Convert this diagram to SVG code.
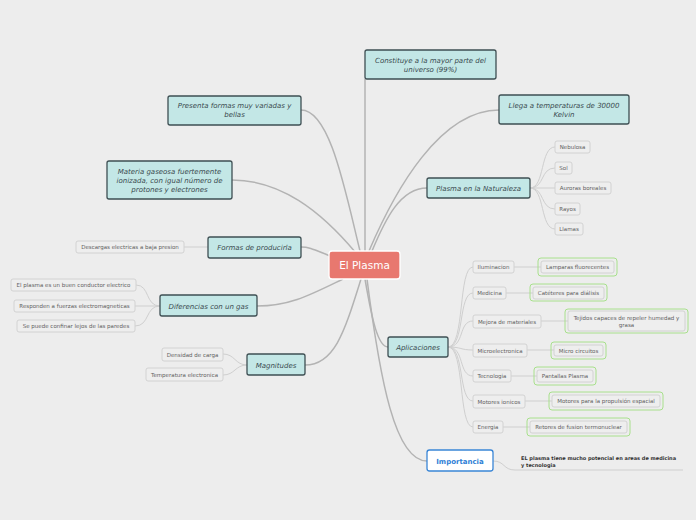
<svg xmlns="http://www.w3.org/2000/svg" width="696" height="520" viewBox="0 0 696 520">
<style>
.bg{fill:#ededed}
.main rect{fill:#c3e7e6;stroke:#3e4f53;stroke-width:1.3}
.main text{font-family:"DejaVu Sans",Verdana,sans-serif;font-size:7px;font-style:italic;fill:#3a4a4e;text-anchor:middle}
.leaf rect.b{fill:#eeeeee;stroke:#d2d2d2;stroke-width:1}
.leaf rect.g{fill:none;stroke:#a8e08c;stroke-width:1}
.leaf text{font-family:"DejaVu Sans",Verdana,sans-serif;font-size:5.5px;fill:#5e5e5e;text-anchor:middle}
.c1{fill:none;stroke:#b3b3b3;stroke-width:1.5}
.c2{fill:none;stroke:#cfcfcf;stroke-width:1}
</style>
<rect class="bg" width="696" height="520"/>
<g id="connectors">
<path class="c1" d="M365,251 L365,79"/>
<path class="c1" d="M360,251 C345,190 330,110 301,110"/>
<path class="c1" d="M369,251 C395,190 440,110 499,110"/>
<path class="c1" d="M356,253 C320,210 280,180 232,180"/>
<path class="c1" d="M372,251 C385,220 400,188 427,188"/>
<path class="c1" d="M330,256 C315,250 310,247 301,247"/>
<path class="c1" d="M343,279 C310,295 290,306 257,306"/>
<path class="c1" d="M361,279 C345,330 335,365 305,365"/>
<path class="c1" d="M365,279 C372,320 378,347 388,347"/>
<path class="c1" d="M367,279 C380,380 395,461 427,461"/>
<path class="c2" d="M530,188 C545,188 540,147 555,147"/>
<path class="c2" d="M530,188 C545,188 540,168 555,168"/>
<path class="c2" d="M530,188 L555,188"/>
<path class="c2" d="M530,188 C545,188 540,209 555,209"/>
<path class="c2" d="M530,188 C545,188 540,229 555,229"/>
<path class="c2" d="M208,247 L184,247"/>
<path class="c2" d="M160,306 C145,306 150,285 136,285"/>
<path class="c2" d="M160,306 L135,306"/>
<path class="c2" d="M160,306 C145,306 150,326 135,326"/>
<path class="c2" d="M247,365 C235,365 235,354 223,354"/>
<path class="c2" d="M247,365 C235,365 235,375 223,375"/>
<path class="c2" d="M448,347 C465,347 458,267 473,267"/>
<path class="c2" d="M448,347 C465,347 458,293 473,293"/>
<path class="c2" d="M448,347 C465,347 458,321 473,321"/>
<path class="c2" d="M448,347 C462,347 460,350 473,350"/>
<path class="c2" d="M448,347 C465,347 458,376 473,376"/>
<path class="c2" d="M448,347 C465,347 458,401 473,401"/>
<path class="c2" d="M448,347 C465,347 458,427 473,427"/>
<path class="c2" d="M514,267 L541,267"/>
<path class="c2" d="M506,293 L533,293"/>
<path class="c2" d="M541,321 L568,321"/>
<path class="c2" d="M527,350 L554,350"/>
<path class="c2" d="M511,376 L537,376"/>
<path class="c2" d="M525,401 L552,401"/>
<path class="c2" d="M503,427 L530,427"/>
<path class="c2" d="M493,461 C505,461 503,470 515,470 L683,470"/>
</g>
<g id="center">
<rect x="329" y="251" width="71" height="28" rx="3" fill="#e8786f" stroke="#ffffff" stroke-width="1.3"/>
<text x="364.5" y="269" font-family="'DejaVu Sans',Verdana,sans-serif" font-size="10.5" fill="#ffffff" text-anchor="middle">El Plasma</text>
</g>
<g id="n-constituye" class="main"><rect x="365" y="50" width="131" height="29" rx="2"/><text x="430.5" y="63">Constituye a la mayor parte del</text><text x="430.5" y="72">universo (99%)</text></g>
<g id="n-presenta" class="main"><rect x="168" y="96" width="133" height="29" rx="2"/><text x="234.5" y="108">Presenta formas muy variadas y</text><text x="234.5" y="117">bellas</text></g>
<g id="n-llega" class="main"><rect x="499" y="95" width="130" height="29" rx="2"/><text x="564" y="108">Llega a temperaturas de 30000</text><text x="564" y="117">Kelvin</text></g>
<g id="n-materia" class="main"><rect x="107" y="161" width="125" height="38" rx="2"/><text x="169.5" y="174">Materia gaseosa fuertemente</text><text x="169.5" y="183">ionizada, con igual número de</text><text x="169.5" y="192">protones y electrones</text></g>
<g id="n-naturaleza" class="main"><rect x="427" y="178" width="103" height="20" rx="2"/><text x="478.5" y="191">Plasma en la Naturaleza</text></g>
<g id="n-formas" class="main"><rect x="208" y="237" width="93" height="21" rx="2"/><text x="254.5" y="250">Formas de producirla</text></g>
<g id="n-diferencias" class="main"><rect x="160" y="295" width="97" height="21" rx="2"/><text x="208.5" y="308.5">Diferencias con un gas</text></g>
<g id="n-magnitudes" class="main"><rect x="247" y="354" width="58" height="21" rx="2"/><text x="276" y="367.5">Magnitudes</text></g>
<g id="n-aplicaciones" class="main"><rect x="388" y="337" width="60" height="20" rx="2"/><text x="418" y="350">Aplicaciones</text></g>
<g id="n-importancia"><rect x="427" y="450" width="66" height="21" rx="2.5" fill="#ffffff" stroke="#3a86d6" stroke-width="1.3"/><text x="460" y="464" font-family="'DejaVu Sans',Verdana,sans-serif" font-size="7" font-weight="bold" fill="#2f7fd6" text-anchor="middle">Importancia</text></g>
<g id="t-importancia"><text x="521" y="460" font-family="'DejaVu Sans',Verdana,sans-serif" font-size="5" font-weight="bold" fill="#333333">EL plasma tiene mucho potencial en areas de medicina</text><text x="521" y="466.5" font-family="'DejaVu Sans',Verdana,sans-serif" font-size="5" font-weight="bold" fill="#333333">y tecnologia</text></g>
<g id="l-nebulosa" class="leaf"><rect class="b" x="555" y="141" width="35" height="12" rx="2"/><text x="572.5" y="149">Nebulosa</text></g>
<g id="l-sol" class="leaf"><rect class="b" x="555" y="162" width="17" height="12" rx="2"/><text x="563.5" y="170">Sol</text></g>
<g id="l-auroras" class="leaf"><rect class="b" x="555" y="182" width="56" height="12" rx="2"/><text x="583" y="190">Auroras boreales</text></g>
<g id="l-rayos" class="leaf"><rect class="b" x="555" y="203" width="25" height="12" rx="2"/><text x="567.5" y="211">Rayos</text></g>
<g id="l-llamas" class="leaf"><rect class="b" x="555" y="223" width="28" height="12" rx="2"/><text x="569" y="231">Llamas</text></g>
<g id="l-descargas" class="leaf"><rect class="b" x="76" y="241" width="108" height="12" rx="2"/><text x="130" y="249">Descargas electricas a baja presion</text></g>
<g id="l-conductor" class="leaf"><rect class="b" x="11" y="279" width="125" height="12" rx="2"/><text x="73.5" y="287">El plasma es un buen conductor electrico</text></g>
<g id="l-responden" class="leaf"><rect class="b" x="14" y="300" width="121" height="12" rx="2"/><text x="74.5" y="308">Responden a fuerzas electromagneticas</text></g>
<g id="l-confinar" class="leaf"><rect class="b" x="17" y="320" width="118" height="12" rx="2"/><text x="76" y="328">Se puede confinar lejos de las paredes</text></g>
<g id="l-densidad" class="leaf"><rect class="b" x="162" y="348" width="61" height="13" rx="2"/><text x="192.5" y="356.5">Densidad de carga</text></g>
<g id="l-temperatura" class="leaf"><rect class="b" x="146" y="368" width="77" height="13" rx="2"/><text x="184.5" y="376.5">Temperatura electronica</text></g>
<g id="l-iluminacion" class="leaf"><rect class="b" x="473" y="261" width="41" height="12" rx="2"/><text x="493.5" y="269">Iluminacion</text></g>
<g id="l-medicina" class="leaf"><rect class="b" x="473" y="287" width="33" height="12" rx="2"/><text x="489.5" y="295">Medicina</text></g>
<g id="l-mejora" class="leaf"><rect class="b" x="473" y="315" width="68" height="13" rx="2"/><text x="507" y="323.5">Mejora de materiales</text></g>
<g id="l-micro" class="leaf"><rect class="b" x="473" y="344" width="54" height="13" rx="2"/><text x="500" y="352.5">Microelectronica</text></g>
<g id="l-tecnologia" class="leaf"><rect class="b" x="473" y="370" width="38" height="12" rx="2"/><text x="492" y="378">Tecnologia</text></g>
<g id="l-motores" class="leaf"><rect class="b" x="473" y="395" width="52" height="13" rx="2"/><text x="499" y="403.5">Motores ionicos</text></g>
<g id="l-energia" class="leaf"><rect class="b" x="473" y="421" width="30" height="12" rx="2"/><text x="488" y="429">Energia</text></g>
<g id="l-lamparas" class="leaf"><rect class="g" x="538" y="258" width="79" height="18" rx="3"/><rect class="b" x="541" y="261" width="73" height="12" rx="2"/><text x="577.5" y="269">Lamparas fluorecentes</text></g>
<g id="l-cateteres" class="leaf"><rect class="g" x="530" y="284" width="77" height="17" rx="3"/><rect class="b" x="533" y="287" width="71" height="12" rx="2"/><text x="568.5" y="295">Catéteres para diálisis</text></g>
<g id="l-tejidos" class="leaf"><rect class="g" x="565" y="309" width="123" height="24" rx="3"/><rect class="b" x="568" y="311" width="117" height="20" rx="2"/><text x="626.5" y="319.5">Tejidos capaces de repeler humedad y</text><text x="626.5" y="326.5">grasa</text></g>
<g id="l-microcircuitos" class="leaf"><rect class="g" x="551" y="342" width="55" height="17" rx="3"/><rect class="b" x="554" y="345" width="49" height="11" rx="2"/><text x="578.5" y="352.5">Micro circuitos</text></g>
<g id="l-pantallas" class="leaf"><rect class="g" x="534" y="367" width="62" height="18" rx="3"/><rect class="b" x="537" y="370" width="56" height="12" rx="2"/><text x="565" y="378">Pantallas Plasma</text></g>
<g id="l-propulsion" class="leaf"><rect class="g" x="549" y="392" width="114" height="18" rx="3"/><rect class="b" x="552" y="395" width="108" height="12" rx="2"/><text x="606" y="403">Motores para la propulsión espacial</text></g>
<g id="l-retores" class="leaf"><rect class="g" x="527" y="418" width="103" height="18" rx="3"/><rect class="b" x="530" y="421" width="97" height="12" rx="2"/><text x="578.5" y="429">Retores de fusion termonuclear</text></g>
</svg>
